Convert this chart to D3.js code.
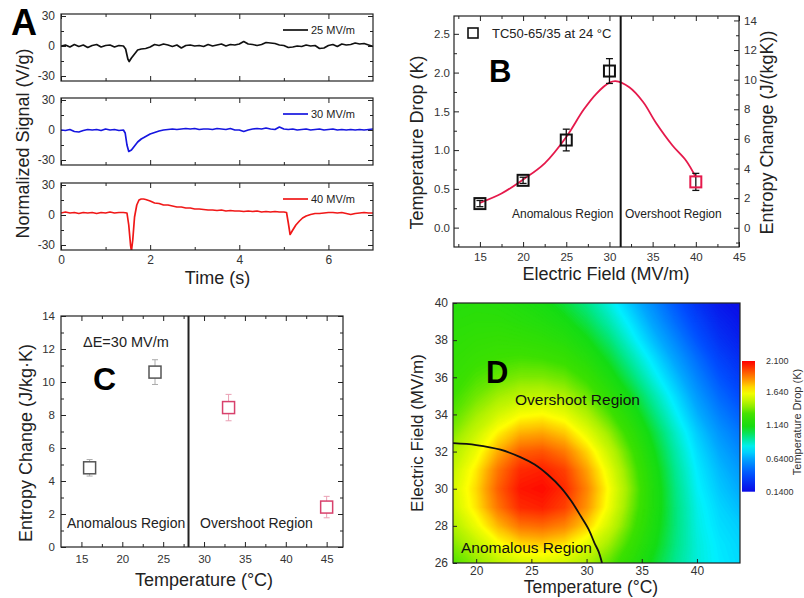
<!DOCTYPE html>
<html><head><meta charset="utf-8">
<script src="https://cdn.jsdelivr.net/npm/d3@7"></script>
<style>body{margin:0;background:#fff}svg{display:block}</style>
</head><body><svg id="c" width="804" height="598"></svg>
<script>
// ---------------- DATA ----------------
// Panel A: normalized signal traces [time (s), signal (V/g)]
const traceLabels = ["25 MV/m", "30 MV/m", "40 MV/m"];
const trace25 = [[0,0],[0.1,1],[0.2,-1],[0.3,1.5],[0.4,-0.5],[0.5,1],[0.6,-1.5],[0.7,0.5],[0.8,1.5],[0.9,-1],[1.0,0.5],[1.1,1],[1.2,-1],[1.3,0.5],[1.4,0],[1.45,-3],[1.5,-13],[1.53,-15.5],[1.58,-12],[1.65,-8],[1.72,-4],[1.8,-3],[1.9,-2.5],[2.0,-1],[2.1,1.5],[2.2,0.5],[2.3,2],[2.4,1],[2.5,-0.5],[2.6,1],[2.7,-2],[2.8,0.5],[2.9,1],[3.0,0],[3.1,0.5],[3.2,-0.5],[3.3,1.5],[3.4,0],[3.5,1],[3.6,2],[3.7,0],[3.8,1.5],[3.9,1],[4.0,2],[4.1,4.5],[4.2,2],[4.3,1.5],[4.4,0.5],[4.5,1.5],[4.6,3.5],[4.7,3],[4.8,2.5],[4.9,1],[5.0,0.5],[5.1,-1.5],[5.2,-1],[5.3,0],[5.4,-0.5],[5.5,1],[5.6,0],[5.7,0.5],[5.8,-2.5],[5.9,-2],[6.0,0.5],[6.1,1.5],[6.2,-0.5],[6.3,2],[6.4,1],[6.5,1.5],[6.6,3],[6.7,2],[6.8,2.5],[6.9,1],[7.0,-0.5]];
const trace30 = [[0,0],[0.1,-0.5],[0.2,0.5],[0.3,-1.5],[0.4,-2],[0.5,-0.5],[0.6,0.5],[0.7,0],[0.8,0.5],[0.9,-0.5],[1.0,1],[1.1,0],[1.2,0.5],[1.3,-0.5],[1.4,0],[1.44,-3],[1.48,-15],[1.52,-21.5],[1.58,-20],[1.65,-16],[1.72,-12],[1.8,-9],[1.9,-6.5],[2.0,-4],[2.1,-2.5],[2.2,-1],[2.3,0],[2.4,0.5],[2.5,1],[2.6,0.5],[2.7,1],[2.8,1.5],[2.9,1],[3.0,1.5],[3.1,0.5],[3.2,1],[3.3,1],[3.4,0.5],[3.5,1.5],[3.6,1],[3.7,0.5],[3.8,1.5],[3.9,0],[4.0,0],[4.1,-1.5],[4.2,0],[4.3,1],[4.4,1.5],[4.5,1],[4.6,2],[4.7,1],[4.8,0.5],[4.9,3],[5.0,1],[5.1,0.5],[5.2,1],[5.3,0],[5.4,0.5],[5.5,1],[5.6,0],[5.7,0.5],[5.8,1],[5.9,0],[6.0,0.5],[6.1,1],[6.2,0],[6.3,0.5],[6.4,0],[6.5,0.5],[6.6,0],[6.7,0.5],[6.8,0],[6.9,0.5],[7.0,1]];
const trace40 = [[0,2],[0.1,3],[0.2,2],[0.3,2.5],[0.4,1.5],[0.5,2.5],[0.6,2],[0.7,2.5],[0.8,1.5],[0.9,2.5],[1.0,2],[1.1,3],[1.2,2],[1.3,2.5],[1.4,2.5],[1.48,2],[1.52,-10],[1.56,-30],[1.58,-36],[1.61,-25],[1.65,-2],[1.7,10],[1.75,15],[1.8,16],[1.85,16],[1.9,15.5],[2.0,14],[2.1,12],[2.2,11.5],[2.3,10],[2.4,10],[2.5,9],[2.6,8],[2.7,8],[2.8,7],[2.9,7],[3.0,6],[3.1,6],[3.2,5.5],[3.3,5],[3.4,5],[3.5,4.5],[3.6,5],[3.7,4],[3.8,4.5],[3.9,4],[4.0,4],[4.1,3.5],[4.2,4],[4.3,3.5],[4.4,4],[4.5,3],[4.6,3.5],[4.7,3],[4.8,3.5],[4.9,3],[5.0,3],[5.06,2.5],[5.1,-8],[5.14,-19.5],[5.2,-15],[5.27,-10],[5.35,-6],[5.42,-3],[5.5,-1],[5.6,0.5],[5.7,1.5],[5.8,1.5],[5.9,2],[6.0,2.5],[6.1,2.5],[6.2,2],[6.3,2.5],[6.4,1.5],[6.5,0.5],[6.6,1.5],[6.7,2],[6.8,2.5],[6.9,2],[7.0,2]];
const timeTicks = [0, 2, 4, 6];
const signalTicks = [-30, 0, 30];

// Panel B: temperature drop vs electric field
const fieldB = [15, 20, 25, 30, 40];
const dropB = [0.31, 0.61, 1.13, 2.02, 0.59];
const dropErrB = [0.04, 0.04, 0.14, 0.16, 0.11];
const regionB = ["anomalous", "anomalous", "anomalous", "anomalous", "overshoot"];
const fitFieldB = [15, 17.5, 20, 22.5, 25, 27, 28.5, 30, 30.7, 32.3, 33.9, 35.4, 37.3, 38.9, 40];
const fitDropB  = [0.32, 0.44, 0.62, 0.83, 1.17, 1.52, 1.73, 1.87, 1.89, 1.81, 1.62, 1.35, 1.06, 0.86, 0.65];
const boundaryFieldB = 31.3;
const legendB = "TC50-65/35 at 24 °C";

// Panel C: entropy change vs temperature at ΔE = 30 MV/m
const tempC = [16, 24, 33, 45];
const entropyC = [4.8, 10.6, 8.45, 2.42];
const entropyErrC = [0.5, 0.75, 0.8, 0.65];
const regionC = ["anomalous", "anomalous", "overshoot", "overshoot"];
const boundaryTempC = 28.1;

// Panel D: temperature drop map (rows: field 26..40 MV/m, cols: temperature 18..44 °C)
const heatT = [18, 20, 22, 24, 26, 28, 30, 32, 34, 36, 38, 40, 42, 44];
const heatE = [26, 27, 28, 29, 30, 31, 32, 33, 34, 35, 36, 37, 38, 39, 40];
const heatValues = [
  [1.33,1.41,1.49,1.54,1.56,1.53,1.46,1.35,1.22,1.08,0.95,0.85,0.79,0.75],
  [1.40,1.50,1.62,1.70,1.72,1.68,1.58,1.44,1.28,1.12,0.97,0.85,0.78,0.74],
  [1.47,1.60,1.76,1.88,1.90,1.85,1.72,1.54,1.34,1.15,0.98,0.84,0.76,0.72],
  [1.53,1.68,1.88,2.02,2.04,1.98,1.82,1.61,1.38,1.17,0.98,0.83,0.74,0.68],
  [1.55,1.70,1.92,2.06,2.08,2.02,1.85,1.63,1.40,1.17,0.97,0.81,0.71,0.64],
  [1.52,1.67,1.88,2.02,2.04,1.98,1.80,1.59,1.37,1.15,0.95,0.79,0.68,0.60],
  [1.47,1.60,1.78,1.92,1.94,1.87,1.71,1.52,1.32,1.11,0.92,0.76,0.64,0.55],
  [1.40,1.52,1.66,1.77,1.79,1.73,1.59,1.43,1.25,1.06,0.88,0.72,0.59,0.50],
  [1.34,1.44,1.54,1.62,1.64,1.59,1.47,1.33,1.17,0.99,0.82,0.66,0.53,0.44],
  [1.30,1.37,1.44,1.49,1.50,1.46,1.37,1.24,1.09,0.92,0.76,0.60,0.47,0.38],
  [1.27,1.32,1.36,1.39,1.39,1.36,1.28,1.15,1.00,0.84,0.69,0.54,0.41,0.32],
  [1.25,1.28,1.30,1.31,1.30,1.27,1.19,1.07,0.92,0.77,0.62,0.48,0.35,0.27],
  [1.23,1.25,1.26,1.25,1.23,1.19,1.11,0.99,0.84,0.69,0.55,0.41,0.29,0.22],
  [1.21,1.22,1.22,1.20,1.17,1.12,1.03,0.91,0.77,0.62,0.48,0.35,0.24,0.18],
  [1.19,1.20,1.19,1.16,1.12,1.05,0.96,0.84,0.70,0.56,0.42,0.29,0.19,0.15]
];
const boundaryTD = [17.9, 20, 22.2, 24, 25.3, 26.5, 27.7, 28.6, 29.5, 30.2, 30.7, 31.1, 31.4];
const boundaryED = [32.45, 32.35, 32.1, 31.7, 31.3, 30.75, 30.05, 29.35, 28.5, 27.8, 27.1, 26.6, 26.0];
const colorbarTicks = [2.1, 1.64, 1.14, 0.64, 0.14];
const colorbarLabels = ["2.100", "1.640", "1.140", "0.6400", "0.1400"];

// ---------------- DRAWING ----------------
const FONT = "Arial, 'Liberation Sans', sans-serif";
const svg = d3.select("#c");
const defs = svg.append("defs");

function ax(g, gen, tr, values, size, fmt, pad, fs) {
  const a = g.append("g").attr("transform", tr)
    .call(gen.tickValues(values).tickSize(size).tickPadding(pad || 4).tickFormat(fmt || (() => "")));
  a.select(".domain").remove();
  a.selectAll("line").attr("stroke", "#222").attr("stroke-width", 1);
  a.selectAll("text").attr("font-size", fs || 12).attr("fill", "#333").attr("font-family", FONT);
  return a;
}
function frame(g, x, y) {
  const [x0, x1] = x.range(), [y0, y1] = y.range();
  g.append("rect").attr("x", x0).attr("y", y1).attr("width", x1 - x0).attr("height", y0 - y1)
    .attr("fill", "none").attr("stroke", "#222").attr("stroke-width", 1.2);
}
function clip(id, x, y) {
  const [x0, x1] = x.range(), [y0, y1] = y.range();
  defs.append("clipPath").attr("id", id).append("rect")
    .attr("x", x0).attr("y", y1).attr("width", x1 - x0).attr("height", y0 - y1);
  return `url(#${id})`;
}
function text(g, s, x, y, o = {}) {
  const t = g.append("text").attr("x", x).attr("y", y).text(s)
    .attr("font-family", FONT).attr("font-size", o.fs || 12).attr("fill", o.fill || "#111")
    .attr("text-anchor", o.anchor || "start");
  if (o.bold) t.attr("font-weight", "bold");
  if (o.rot) t.attr("transform", `rotate(${o.rot},${x},${y})`);
  return t;
}
const fmtPlain = d => String(d);

// ===== Panel A =====
{
  const g = svg.append("g");
  const x = d3.scaleLinear([0, 7], [61, 373]);
  const tops = [14, 98, 183];
  const traces = [trace25, trace30, trace40];
  const colors = ["#111111", "#1616e0", "#f01818"];
  tops.forEach((top, i) => {
    const y = d3.scaleLinear([-35, 32], [top + 67, top]);
    const last = i === 2;
    ax(g, d3.axisBottom(x), `translate(0,${top + 67})`, timeTicks, -5, last ? fmtPlain : null, 5.5, 12);
    ax(g, d3.axisBottom(x), `translate(0,${top + 67})`, [1, 3, 5], -3);
    ax(g, d3.axisTop(x), `translate(0,${top})`, timeTicks, -5);
    ax(g, d3.axisTop(x), `translate(0,${top})`, [1, 3, 5], -3);
    ax(g, d3.axisLeft(y), `translate(61,0)`, signalTicks, -5, fmtPlain, 6, 12);
    ax(g, d3.axisLeft(y), `translate(61,0)`, [-15, 15], -3);
    ax(g, d3.axisRight(y), `translate(373,0)`, signalTicks, -5);
    ax(g, d3.axisRight(y), `translate(373,0)`, [-15, 15], -3);
    g.append("path").datum(traces[i])
      .attr("clip-path", clip("clipA" + i, x, y))
      .attr("d", d3.line().x(d => x(d[0])).y(d => y(d[1])))
      .attr("fill", "none").attr("stroke", colors[i]).attr("stroke-width", 1.7).attr("stroke-linejoin", "round");
    frame(g, x, y);
    g.append("line").attr("x1", 283).attr("x2", 308).attr("y1", top + 16).attr("y2", top + 16)
      .attr("stroke", colors[i]).attr("stroke-width", 1.7);
    text(g, traceLabels[i], 311, top + 16, { fs: 11, fill: "#222" }).attr("dy", "0.35em");
  });
  text(g, "A", 11, 35, { fs: 36, bold: true, fill: "#000" });
  text(g, "Normalized Signal (V/g)", 29, 143.5, { fs: 18, anchor: "middle", rot: -90, fill: "#222" });
  text(g, "Time (s)", 217.5, 284, { fs: 18, anchor: "middle", fill: "#222" });
}

// ===== Panel B =====
{
  const g = svg.append("g");
  const x = d3.scaleLinear([12, 45], [454, 739]);
  const y = d3.scaleLinear([-0.25, 2.73], [247, 16]);
  const y2 = d3.scaleLinear([-1.3, 14.3], [247, 16]);
  const xMaj = d3.range(15, 46, 5), xMin = d3.range(12.5, 45, 5);
  ax(g, d3.axisBottom(x), `translate(0,247)`, xMaj, -5, fmtPlain, 5.8, 11.5);
  ax(g, d3.axisBottom(x), `translate(0,247)`, xMin, -3);
  ax(g, d3.axisTop(x), `translate(0,16)`, xMaj, -5);
  ax(g, d3.axisTop(x), `translate(0,16)`, xMin, -3);
  ax(g, d3.axisLeft(y), `translate(454,0)`, [0, 0.5, 1, 1.5, 2, 2.5], -5, d3.format(".1f"), 4, 11.5);
  ax(g, d3.axisLeft(y), `translate(454,0)`, [0.25, 0.75, 1.25, 1.75, 2.25], -3);
  ax(g, d3.axisRight(y2), `translate(739,0)`, d3.range(0, 15, 2), -5, fmtPlain, 5, 11.5);
  ax(g, d3.axisRight(y2), `translate(739,0)`, d3.range(-1, 14, 2), -3);

  g.append("path").datum(fitFieldB.map((f, i) => [f, fitDropB[i]]))
    .attr("d", d3.line().x(d => x(d[0])).y(d => y(d[1])).curve(d3.curveCatmullRom))
    .attr("fill", "none").attr("stroke", "#e5194b").attr("stroke-width", 1.8);
  g.append("line").attr("x1", x(boundaryFieldB)).attr("x2", x(boundaryFieldB)).attr("y1", 16).attr("y2", 247)
    .attr("stroke", "#111").attr("stroke-width", 2);
  const pts = fieldB.map((f, i) => ({ f, v: dropB[i], e: dropErrB[i], r: regionB[i] }));
  const eb = g.append("g").attr("stroke", "#111").attr("stroke-width", 1.3);
  pts.forEach(p => {
    eb.append("line").attr("x1", x(p.f)).attr("x2", x(p.f)).attr("y1", y(p.v - p.e)).attr("y2", y(p.v + p.e));
    [p.v - p.e, p.v + p.e].forEach(v => eb.append("line").attr("x1", x(p.f) - 3.5).attr("x2", x(p.f) + 3.5).attr("y1", y(v)).attr("y2", y(v)));
  });
  g.selectAll("rect.pt").data(pts).join("rect").attr("class", "pt")
    .attr("x", d => x(d.f) - 5.5).attr("y", d => y(d.v) - 5.5).attr("width", 11).attr("height", 11)
    .attr("fill", "none").attr("stroke", d => d.r === "overshoot" ? "#e5194b" : "#111").attr("stroke-width", 2);
  frame(g, x, y);
  g.append("rect").attr("x", 468).attr("y", 28).attr("width", 10).attr("height", 10)
    .attr("fill", "none").attr("stroke", "#111").attr("stroke-width", 1.6);
  text(g, legendB, 492, 37.5, { fs: 13, fill: "#222" });
  text(g, "B", 489, 81.7, { fs: 31, bold: true, fill: "#000" });
  text(g, "Anomalous Region", 512, 218, { fs: 12, fill: "#222" });
  text(g, "Overshoot Region", 625, 218, { fs: 12, fill: "#222" });
  text(g, "Temperature Drop (K)", 423, 142.5, { fs: 18, anchor: "middle", rot: -90, fill: "#222" });
  text(g, "Entropy Change (J/(kgK))", 773, 132.5, { fs: 18, anchor: "middle", rot: -90, fill: "#222" });
  text(g, "Electric Field (MV/m)", 606, 280, { fs: 18, anchor: "middle", fill: "#222" });
}

// ===== Panel C =====
{
  const g = svg.append("g");
  const x = d3.scaleLinear([12.5, 47], [61, 343]);
  const y = d3.scaleLinear([0, 14], [547, 316]);
  const xMaj = d3.range(15, 46, 5), xMin = d3.range(12.5, 47, 5);
  ax(g, d3.axisBottom(x), `translate(0,547)`, xMaj, -5, fmtPlain, 7.8, 11.5);
  ax(g, d3.axisBottom(x), `translate(0,547)`, xMin.filter(v => v > 12.5), -3);
  ax(g, d3.axisTop(x), `translate(0,316)`, xMaj, -5);
  ax(g, d3.axisTop(x), `translate(0,316)`, xMin.filter(v => v > 12.5), -3);
  ax(g, d3.axisLeft(y), `translate(61,0)`, d3.range(0, 15, 2), -5, fmtPlain, 6, 11.5);
  ax(g, d3.axisLeft(y), `translate(61,0)`, d3.range(1, 14, 2), -3);
  ax(g, d3.axisRight(y), `translate(343,0)`, d3.range(0, 15, 2), -5);
  ax(g, d3.axisRight(y), `translate(343,0)`, d3.range(1, 14, 2), -3);
  g.append("line").attr("x1", x(boundaryTempC)).attr("x2", x(boundaryTempC)).attr("y1", 316).attr("y2", 547)
    .attr("stroke", "#222").attr("stroke-width", 2);
  const pts = tempC.map((t, i) => ({ t, v: entropyC[i], e: entropyErrC[i], r: regionC[i] }));
  pts.forEach(p => {
    const col = p.r === "overshoot" ? "#eaa0b4" : "#aaaaaa";
    const eg = g.append("g").attr("stroke", col).attr("stroke-width", 1);
    eg.append("line").attr("x1", x(p.t)).attr("x2", x(p.t)).attr("y1", y(p.v - p.e)).attr("y2", y(p.v + p.e));
    [p.v - p.e, p.v + p.e].forEach(v => eg.append("line").attr("x1", x(p.t) - 3).attr("x2", x(p.t) + 3).attr("y1", y(v)).attr("y2", y(v)));
  });
  g.selectAll("rect.pt").data(pts).join("rect").attr("class", "pt")
    .attr("x", d => x(d.t) - 6).attr("y", d => y(d.v) - 6).attr("width", 12).attr("height", 12)
    .attr("fill", "#fff").attr("stroke", d => d.r === "overshoot" ? "#d8416c" : "#555").attr("stroke-width", 1.5);
  frame(g, x, y);
  text(g, "\u0394E=30 MV/m", 83, 347, { fs: 14.5, fill: "#222" });
  text(g, "C", 93, 390, { fs: 32, bold: true, fill: "#000" });
  text(g, "Anomalous Region", 67, 528, { fs: 14, fill: "#222" });
  text(g, "Overshoot Region", 200, 528, { fs: 14, fill: "#222" });
  text(g, "Entropy Change (J/kg\u00b7K)", 32, 443, { fs: 18, anchor: "middle", rot: -90, fill: "#222" });
  text(g, "Temperature (\u00b0C)", 204, 586, { fs: 18, anchor: "middle", fill: "#222" });
}

// ===== Panel D =====
{
  const g = svg.append("g");
  const x = d3.scaleLinear([17.9, 43.9], [453, 740]);
  const y = d3.scaleLinear([26, 40], [563, 303]);
  const color = d3.scaleLinear()
    .domain([0.14, 0.40, 0.64, 0.80, 0.95, 1.10, 1.30, 1.45, 1.64, 1.80, 1.95, 2.10])
    .range(["#0a0ae6", "#0050ff", "#00a8ff", "#00f0ff", "#00e890", "#14dc14", "#3ce000", "#a8f000", "#ffff00", "#ffa000", "#ff5000", "#ff0000"])
    .clamp(true);
  const n = heatT.length, m = heatE.length;
  const flat = heatValues.flat();
  const thr = d3.range(0.10, 2.12, 0.01);
  const contours = d3.contours().size([n, m]).thresholds(thr)(flat);
  const tStep = heatT[1] - heatT[0], eStep = heatE[1] - heatE[0];
  const proj = d3.geoTransform({
    point(px, py) { this.stream.point(x(heatT[0] + (px - 0.5) * tStep), y(heatE[0] + (py - 0.5) * eStep)); }
  });
  const path = d3.geoPath(proj);
  g.append("g").attr("clip-path", clip("clipD", x, y))
    .selectAll("path").data(contours).join("path")
    .attr("d", path).attr("fill", d => color(d.value + 0.005)).attr("stroke", d => color(d.value + 0.005)).attr("stroke-width", 0.6);
  g.append("path").datum(boundaryTD.map((t, i) => [t, boundaryED[i]]))
    .attr("clip-path", "url(#clipD)")
    .attr("d", d3.line().x(d => x(d[0])).y(d => y(d[1])).curve(d3.curveCatmullRom))
    .attr("fill", "none").attr("stroke", "#111").attr("stroke-width", 1.8);
  ax(g, d3.axisBottom(x), `translate(0,563)`, [20, 25, 30, 35, 40], -4, fmtPlain, 3, 12);
  ax(g, d3.axisLeft(y), `translate(453,0)`, d3.range(26, 41, 2), -4, fmtPlain, 5, 12);
  frame(g, x, y);
  text(g, "D", 486, 383, { fs: 31, bold: true, fill: "#000" });
  text(g, "Overshoot Region", 515, 405, { fs: 15.5, fill: "#111" });
  text(g, "Anomalous Region", 461, 552.7, { fs: 15.5, fill: "#111" });
  text(g, "Electric Field (MV/m)", 423, 433, { fs: 17, anchor: "middle", rot: -90, fill: "#222" });
  text(g, "Temperature (\u00b0C)", 591, 593, { fs: 17.5, anchor: "middle", fill: "#222" });

  // colorbar
  const cb = d3.scaleLinear([0.14, 2.1], [491.7, 361]);
  const grad = defs.append("linearGradient").attr("id", "cbgrad").attr("x1", 0).attr("x2", 0).attr("y1", 1).attr("y2", 0);
  d3.range(0, 1.0001, 0.05).forEach(f => {
    grad.append("stop").attr("offset", f).attr("stop-color", color(0.14 + f * 1.96));
  });
  g.append("rect").attr("x", 742).attr("y", 361).attr("width", 13).attr("height", 491.7 - 361).attr("fill", "url(#cbgrad)");
  colorbarTicks.forEach((v, i) => {
    text(g, colorbarLabels[i], 766, cb(v), { fs: 9, fill: "#333" }).attr("dy", "0.35em");
  });
  text(g, "Temperature Drop (K)", 800.5, 422, { fs: 11, anchor: "middle", rot: -90, fill: "#333" });
}
</script>
</body></html>
